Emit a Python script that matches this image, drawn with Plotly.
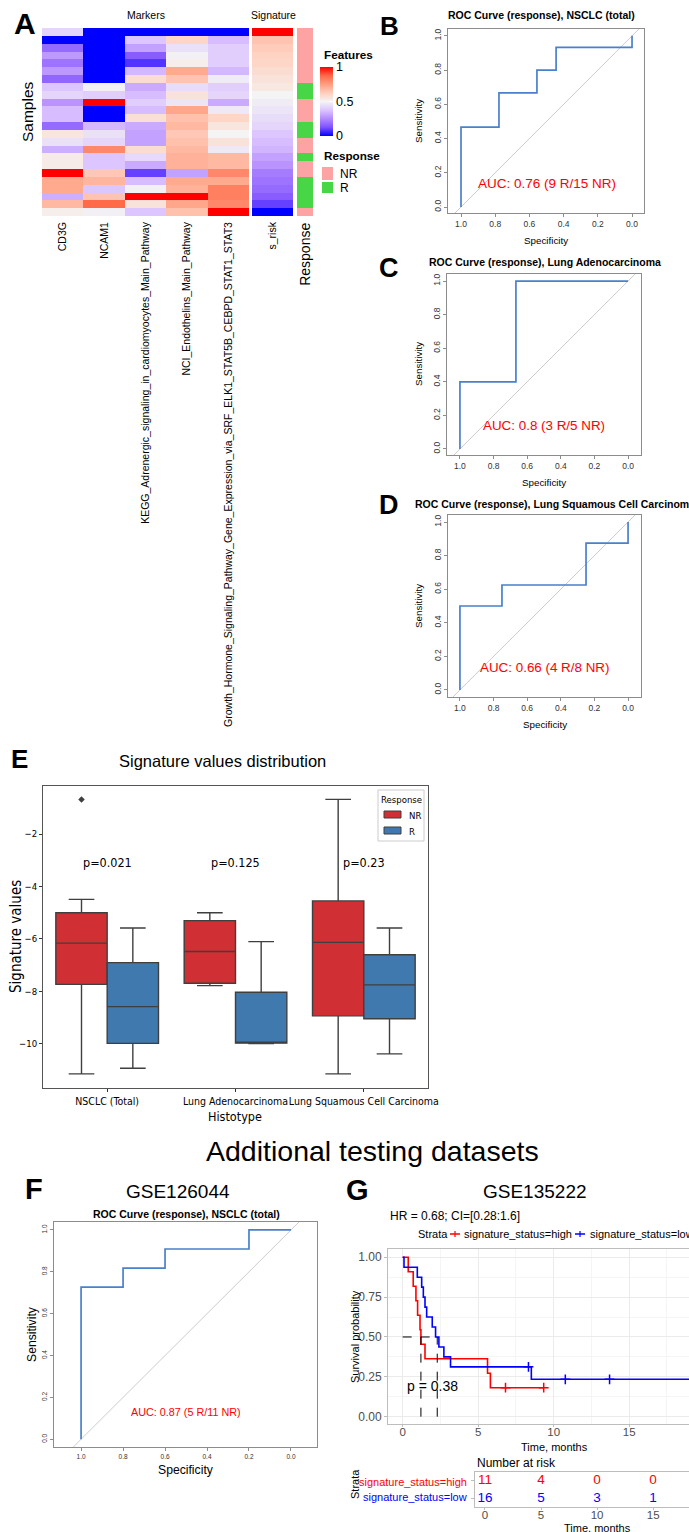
import numpy as np
import plotly.graph_objects as go

W, H = 689, 1532
def X(p): return p / W
def Y(p): return 1 - p / H

ARIAL = "Liberation Sans, Arial, Helvetica, sans-serif"
DV = "DejaVu Sans Condensed, DejaVu Sans, sans-serif"

# ---------------- Panel A data ----------------
feature_names = ["CD3G", "NCAM1",
                 "KEGG_Adrenergic_signaling_in_cardiomyocytes_Main_Pathway",
                 "NCI_Endothelins_Main_Pathway",
                 "Growth_Hormone_Signaling_Pathway_Gene_Expression_via_SRF_ELK1_STAT5B_CEBPD_STAT1_STAT3"]
cd3g = [0.42, 0.0, 0.18, 0.28, 0.2, 0.28, 0.17, 0.38, 0.42, 0.27, 0.36, 0.36, 0.18, 0.55, 0.45, 0.33, 0.53, 0.53, 1.0, 0.72, 0.72, 0.33, 0.68, 0.52]
ncam1 = [0.0, 0.0, 0.0, 0.0, 0.0, 0.0, 0.0, 0.49, 0.4, 1.0, 0.0, 0.0, 0.35, 0.45, 0.42, 0.8, 0.38, 0.38, 0.64, 0.69, 0.38, 0.65, 0.87, 0.49]
kegg = [0.0, 0.38, 0.3, 0.15, 0.08, 0.35, 0.58, 0.32, 0.36, 0.4, 0.36, 0.57, 0.32, 0.3, 0.3, 0.58, 0.43, 0.32, 0.1, 0.36, 0.49, 1.0, 0.56, 0.38]
nci = [0.0, 0.6, 0.45, 0.49, 0.52, 0.72, 0.65, 0.44, 0.56, 0.46, 0.73, 0.66, 0.68, 0.64, 0.66, 0.68, 0.7, 0.7, 0.3, 0.72, 0.7, 1.0, 0.73, 0.66]
growth = [0.0, 0.36, 0.4, 0.4, 0.4, 0.35, 0.48, 0.4, 0.42, 0.32, 0.47, 0.6, 0.55, 0.5, 0.56, 0.47, 0.68, 0.68, 0.8, 0.72, 0.82, 0.82, 0.8, 1.0]
s_risk = [1.0, 0.65, 0.63, 0.61, 0.6, 0.58, 0.56, 0.54, 0.5, 0.48, 0.46, 0.44, 0.42, 0.38, 0.36, 0.34, 0.3, 0.27, 0.22, 0.2, 0.18, 0.15, 0.1, 0.0]
response = ["NR", "NR", "NR", "NR", "NR", "NR", "NR", "R", "R", "NR", "NR", "NR", "R", "R",
            "NR", "NR", "R", "NR", "NR", "R", "R", "R", "R", "NR"]

# ---------------- ROC data ----------------
rocB_spec = [1, 1, 0.778, 0.778, 0.556, 0.556, 0.444, 0.444, 0, 0]
rocB_sens = [0, 0.467, 0.467, 0.667, 0.667, 0.8, 0.8, 0.933, 0.933, 1]
rocC_spec = [1, 1, 0.667, 0.667, 0]
rocC_sens = [0, 0.4, 0.4, 1, 1]
rocD_spec = [1, 1, 0.75, 0.75, 0.25, 0.25, 0, 0]
rocD_sens = [0, 0.5, 0.5, 0.625, 0.625, 0.875, 0.875, 1]
rocF_spec = [1, 1, 0.8, 0.8, 0.6, 0.6, 0.2, 0.2, 0]
rocF_sens = [0, 0.727, 0.727, 0.818, 0.818, 0.909, 0.909, 1, 1]
auc_labels = ["AUC: 0.76 (9 R/15 NR)", "AUC: 0.8 (3 R/5 NR)", "AUC: 0.66 (4 R/8 NR)", "AUC: 0.87 (5 R/11 NR)"]
roc_ticks = [0, 0.2, 0.4, 0.6, 0.8, 1.0]

# ---------------- Panel E data ----------------
histotypes = ["NSCLC (Total)", "Lung Adenocarcinoma", "Lung Squamous Cell Carcinoma"]
nr_q1 = [-7.73, -7.69, -8.93]
nr_med = [-6.16, -6.48, -6.13]
nr_q3 = [-5.0, -5.3, -4.55]
nr_lo = [-11.14, -7.78, -11.14]
nr_hi = [-4.49, -5.0, -0.68]
r_q1 = [-9.98, -9.97, -9.04]
r_med = [-8.58, -9.95, -7.75]
r_q3 = [-6.9, -8.03, -6.6]
r_lo = [-10.93, -9.99, -10.38]
r_hi = [-5.58, -6.1, -5.58]
nr_outlier_cat = [0]
nr_outlier_val = [-0.68]
pvals = ["p=0.021", "p=0.125", "p=0.23"]
pval_y = -3.07
e_yticks = [-10, -8, -6, -4, -2]

# ---------------- Panel G data ----------------
high_time = [0.37, 0.70, 0.88, 0.99, 1.15, 1.21, 1.48, 5.62, 5.81, 6.81, 9.34]
high_event = [1, 1, 1, 1, 1, 1, 1, 1, 1, 0, 0]
low_time = [0.09, 0.97, 1.26, 1.37, 1.48, 1.59, 1.96, 2.18, 2.40, 2.73, 3.17, 8.33, 8.52, 10.77, 13.70, 21.0]
low_event = [1, 1, 1, 1, 1, 1, 1, 1, 1, 1, 1, 0, 1, 0, 0, 0]
risk_times = [0, 5, 10, 15]
km_yticks = [0, 0.25, 0.5, 0.75, 1.0]

RED_NR = "#FDA3A3"
GREEN_R = "#46D646"
BOX_RED = "#D03033"
BOX_BLUE = "#4079AD"
ROC_BLUE = "#4A80CC"

CS = [[0, "#0000FF"], [0.125, "#7E51FF"], [0.25, "#B38AFF"], [0.375, "#DCC4FF"],
      [0.5, "#F4F4F4"], [0.625, "#FFCEBD"], [0.75, "#FF9E81"], [0.875, "#FF6847"], [1, "#FF0000"]]

fig = go.Figure()
ann = []
shapes = []

def T(x, y, s, size, color="black", family=ARIAL, xanchor="center", yanchor="middle",
      angle=0, xref="paper", yref="paper", bold=False):
    if bold:
        s = "<b>" + s + "</b>"
    ann.append(dict(x=X(x) if xref == "paper" else x, y=Y(y) if yref == "paper" else y,
                    xref=xref, yref=yref, text=s, showarrow=False,
                    font=dict(size=size, color=color, family=family),
                    xanchor=xanchor, yanchor=yanchor, textangle=angle))

def R(x0, y0, x1, y1, fill, line="rgba(0,0,0,0)", lw=0):
    shapes.append(dict(type="rect", xref="paper", yref="paper", x0=X(x0), x1=X(x1),
                       y0=Y(y0), y1=Y(y1), fillcolor=fill, line=dict(color=line, width=lw)))

def L(x0, y0, x1, y1, color, width=1.5):
    shapes.append(dict(type="line", xref="paper", yref="paper", x0=X(x0), x1=X(x1),
                       y0=Y(y0), y1=Y(y1), line=dict(color=color, width=width)))

layout = {}

# ================= Panel A: heatmap =================
rows = list(range(len(cd3g)))
zmat = np.array([cd3g, ncam1, kegg, nci, growth]).T
fig.add_trace(go.Heatmap(
    z=zmat, x=feature_names, y=rows, colorscale=CS, zmin=0, zmax=1,
    xaxis="x", yaxis="y", hoverinfo="skip",
    colorbar=dict(x=X(320), xanchor="left", y=Y(101.5), yanchor="middle",
                  len=69, lenmode="pixels", thickness=13, thicknessmode="pixels",
                  tickvals=[0, 0.5, 1], ticktext=["0", "0.5", "1"], ticks="inside",
                  ticklen=4, tickcolor="white", outlinewidth=0, xpad=0, ypad=0,
                  tickfont=dict(size=12.5, family=ARIAL, color="black"))))
fig.add_trace(go.Heatmap(
    z=[[v] for v in s_risk], x=["s_risk"], y=rows, colorscale=CS, zmin=0, zmax=1,
    showscale=False, xaxis="x2", yaxis="y2", hoverinfo="skip"))
fig.add_trace(go.Heatmap(
    z=[[0 if r == "NR" else 1] for r in response], x=["Response"], y=rows,
    colorscale=[[0, RED_NR], [0.5, RED_NR], [0.5, GREEN_R], [1, GREEN_R]], zmin=0, zmax=1,
    showscale=False, xaxis="x3", yaxis="y3", hoverinfo="skip"))

def hm_x(d0, d1, yname, fs):
    return dict(domain=[X(d0), X(d1)], type="category", tickangle=-90, anchor=yname,
                tickfont=dict(size=fs, family=ARIAL, color="black"), ticks="",
                showgrid=False, zeroline=False, showline=False, automargin=False,
                ticklabelstandoff=3)

def hm_y(xname):
    return dict(domain=[Y(216), Y(28)], range=[len(rows) - 0.5, -0.5], anchor=xname,
                showticklabels=False, showgrid=False, zeroline=False, ticks="",
                automargin=False)

layout["xaxis"] = hm_x(42, 249, "y", 10.5)
layout["yaxis"] = hm_y("x")
layout["xaxis2"] = hm_x(252, 293, "y2", 10.5)
layout["yaxis2"] = hm_y("x2")
layout["xaxis3"] = hm_x(297, 313, "y3", 14)
layout["yaxis3"] = hm_y("x3")

T(25, 24, "A", 30, bold=True)
T(146, 15, "Markers", 10.5)
T(273, 15, "Signature", 10.5)
T(27, 112, "Samples", 15.5, angle=-90)
T(322, 54, "Features", 11.7, xanchor="left", bold=True)
T(322, 156, "Response", 11.7, xanchor="left", bold=True)
R(322, 167, 333, 180, RED_NR)
R(322, 182, 333, 193, GREEN_R)
T(338, 173.5, "NR", 12, xanchor="left")
T(338, 188, "R", 12, xanchor="left")

# ================= ROC panels =================
GRAYL = "#8C8C8C"

def roc_panel(idx, spec, sens, dom_x, dom_y, xr, yr, fs, auc, auc_fs, auc_y):
    xn, yn = "x%d" % idx, "y%d" % idx
    fig.add_trace(go.Scatter(x=[1.3, -0.3], y=[-0.3, 1.3], mode="lines",
                             line=dict(color="#CCCCCC", width=1), xaxis=xn, yaxis=yn,
                             hoverinfo="skip"))
    fig.add_trace(go.Scatter(x=spec, y=sens, mode="lines", line=dict(color=ROC_BLUE, width=1.7),
                             xaxis=xn, yaxis=yn))
    common = dict(tickvals=roc_ticks, tickformat=".1f", ticks="outside", ticklen=3,
                  tickcolor=GRAYL, showline=True, mirror=True, linecolor=GRAYL, linewidth=1,
                  showgrid=False, zeroline=False, automargin=False,
                  tickfont=dict(size=fs, family=ARIAL, color="#333333"))
    layout["xaxis%d" % idx] = dict(domain=[X(dom_x[0]), X(dom_x[1])], range=xr, anchor=yn, **common)
    layout["yaxis%d" % idx] = dict(domain=[Y(dom_y[1]), Y(dom_y[0])], range=yr, anchor=xn,
                                   tickangle=-90, **common)
    T(0.5, auc_y, auc, auc_fs, color="#FF0000", xref=xn, yref=yn)

roc_panel(4, rocB_spec, rocB_sens, (448, 644), (29, 213), [1.076, -0.07], [-0.035, 1.04], 8.5, auc_labels[0], 13.5, 0.14)
roc_panel(5, rocC_spec, rocC_sens, (447, 641), (274, 455), [1.077, -0.077], [-0.036, 1.042], 8.5, auc_labels[1], 13.4, 0.137)
roc_panel(6, rocD_spec, rocD_sens, (448, 641), (515, 697), [1.071, -0.077], [-0.042, 1.042], 8.5, auc_labels[2], 13.4, 0.131)
roc_panel(8, rocF_spec, rocF_sens, (54, 317), (1222, 1447), [1.129, -0.124], [-0.037, 1.038], 6.5, auc_labels[3], 10.8, 0.13)

T(389, 26, "B", 26, bold=True)
T(541, 15, "ROC Curve (response), NSCLC (total)", 10.5, bold=True)
T(546, 240, "Specificity", 9.8)
T(419, 121, "Sensitivity", 9.8, angle=-90)

T(389, 268, "C", 27, bold=True)
T(545, 262, "ROC Curve (response), Lung Adenocarcinoma", 10.5, bold=True)
T(544, 482, "Specificity", 9.8)
T(419, 364, "Sensitivity", 9.8, angle=-90)

T(389, 505, "D", 27, bold=True)
T(413, 504, "ROC Curve (response), Lung Squamous Cell Carcinoma", 10.5, bold=True, xanchor="left")
T(545, 724, "Specificity", 9.8)
T(419, 606, "Sensitivity", 9.8, angle=-90)

T(34, 1189, "F", 29, bold=True)
T(178, 1191, "GSE126044", 19)
T(186, 1214, "ROC Curve (response), NSCLC (total)", 10.5, bold=True)
T(186, 1470, "Specificity", 12.2)
T(32, 1334, "Sensitivity", 12.2, angle=-90)

# ================= Panel E: boxplots =================
cat_idx = list(range(len(histotypes)))
box_line = dict(color="#3F3F3F", width=1.4)
fig.add_trace(go.Box(x=cat_idx, q1=nr_q1, median=nr_med, q3=nr_q3, lowerfence=nr_lo,
                     upperfence=nr_hi, name="NR", fillcolor=BOX_RED, line=box_line,
                     whiskerwidth=0.5, boxpoints=False, xaxis="x7", yaxis="y7"))
fig.add_trace(go.Box(x=cat_idx, q1=r_q1, median=r_med, q3=r_q3, lowerfence=r_lo,
                     upperfence=r_hi, name="R", fillcolor=BOX_BLUE, line=box_line,
                     whiskerwidth=0.5, boxpoints=False, xaxis="x7", yaxis="y7"))
group_half = 0.2
fig.add_trace(go.Scatter(x=[c - group_half for c in nr_outlier_cat], y=nr_outlier_val, mode="markers",
                         marker=dict(symbol="diamond", size=5, color="#3F3F3F"),
                         xaxis="x7", yaxis="y7"))
layout["xaxis7"] = dict(domain=[X(43), X(428)], range=[-0.5, 2.5], anchor="y7",
                        tickvals=cat_idx, ticktext=histotypes, tickangle=0,
                        ticks="outside", ticklen=3, tickcolor="#333333",
                        showline=True, mirror=True, linecolor="#555555", linewidth=1,
                        showgrid=False, zeroline=False, automargin=False,
                        tickfont=dict(size=10.5, family=DV, color="black"))
layout["yaxis7"] = dict(domain=[Y(1088), Y(786)], range=[-11.68, -0.17], anchor="x7",
                        tickvals=e_yticks, ticks="outside", ticklen=3, tickcolor="#333333",
                        showline=True, mirror=True, linecolor="#555555", linewidth=1,
                        showgrid=False, zeroline=False, automargin=False,
                        tickfont=dict(size=9.5, family=DV, color="black"))
for i, p in enumerate(pvals):
    T(i, pval_y, p, 12.5, family=DV, xref="x7", yref="y7")
T(19, 759, "E", 26, bold=True)
T(222, 761, "Signature values distribution", 16.5)
T(16, 937, "Signature values", 15, family=DV, angle=-90)
T(235, 1116, "Histotype", 12.5, family=DV)
# legend
R(378, 790, 424, 841, "white", line="#CCCCCC", lw=1)
T(401, 799, "Response", 9.5, family=DV)
R(384, 811, 401, 818, BOX_RED, line="#3F3F3F", lw=1)
R(384, 827, 401, 834, BOX_BLUE, line="#3F3F3F", lw=1)
T(407, 815, "NR", 9.5, family=DV, xanchor="left")
T(407, 831, "R", 9.5, family=DV, xanchor="left")

T(372, 1151, "Additional testing datasets", 28.5)

# ================= Panel G: Kaplan-Meier =================
def km(times, events):
    order = np.argsort(times)
    t = np.array(times)[order]
    e = np.array(events)[order]
    n = len(t)
    s = 1.0
    xs, ys, cx, cy = [0.0], [1.0], [], []
    ev_t, ev_s = [], []
    for i, (ti, ei) in enumerate(zip(t, e)):
        if ei:
            s *= 1 - 1.0 / (n - i)
            ev_t.append(ti)
            ev_s.append(s)
        else:
            cx.append(ti)
            cy.append(s)
        xs.append(ti)
        ys.append(s)
    med = None
    for k, (ti, si) in enumerate(zip(ev_t, ev_s)):
        if si <= 0.5 + 1e-9:
            if abs(si - 0.5) < 1e-9 and k + 1 < len(ev_t):
                med = (ti + ev_t[k + 1]) / 2
            else:
                med = ti
            break
    return xs, ys, cx, cy, med

groups = [("signature_status=high", high_time, high_event, "#FF0000"),
          ("signature_status=low", low_time, low_event, "#0000FF")]
medians = []
for name, tt, ee, col in groups:
    xs, ys, cx, cy, med = km(tt, ee)
    medians.append(med)
    fig.add_trace(go.Scatter(x=xs, y=ys, mode="lines", line=dict(color=col, width=1.6, shape="hv"),
                             xaxis="x9", yaxis="y9", name=name))
    fig.add_trace(go.Scatter(x=cx, y=cy, mode="markers",
                             marker=dict(symbol="cross-thin", size=7, line=dict(color=col, width=1.5)),
                             xaxis="x9", yaxis="y9"))
fig.add_trace(go.Scatter(x=[0, max(medians)], y=[0.5, 0.5], mode="lines",
                         line=dict(color="black", width=1, dash="dash"), xaxis="x9", yaxis="y9"))
for m in medians:
    fig.add_trace(go.Scatter(x=[m, m], y=[0, 0.5], mode="lines",
                             line=dict(color="black", width=1, dash="dash"), xaxis="x9", yaxis="y9"))

KMG = "#BDBDBD"
layout["xaxis9"] = dict(domain=[X(388), 1.0], range=[-0.97, 18.96], anchor="y9",
                        tickvals=risk_times, ticks="outside", ticklen=2, tickcolor=KMG,
                        showline=True, mirror=True, linecolor=KMG, linewidth=1,
                        showgrid=True, gridcolor="#EBEBEB", zeroline=False, automargin=False,
                        ticklabelstandoff=-5,
                        minor=dict(dtick=2.5, tick0=0, showgrid=True, gridcolor="#F5F5F5"),
                        tickfont=dict(size=11.5, family=ARIAL, color="#4D4D4D"))
layout["yaxis9"] = dict(domain=[Y(1424), Y(1249)], range=[-0.046, 1.052], anchor="x9",
                        tickvals=km_yticks, tickformat=".2f", ticks="outside", ticklen=3,
                        tickcolor=KMG, showline=True, mirror=True, linecolor=KMG, linewidth=1,
                        showgrid=True, gridcolor="#EBEBEB", zeroline=False, automargin=False,
                        minor=dict(dtick=0.125, tick0=0, showgrid=True, gridcolor="#F5F5F5"),
                        tickfont=dict(size=12, family=ARIAL, color="#4D4D4D"))

T(357, 1190, "G", 29, bold=True)
T(535, 1191, "GSE135222", 19)
T(388, 1216, "HR = 0.68; CI=[0.28:1.6]", 12, xanchor="left")
T(416, 1234, "Strata", 11, xanchor="left")
L(450, 1234, 460, 1234, "#FF0000", 1.5)
L(455, 1231, 455, 1237, "#FF0000", 1.2)
T(462, 1234, "signature_status=high", 11, xanchor="left")
L(575, 1234, 585, 1234, "#0000FF", 1.5)
L(580, 1231, 580, 1237, "#0000FF", 1.2)
T(588, 1234, "signature_status=low", 11, xanchor="left")
T(2.0, 0.19, "p = 0.38", 14, xref="x9", yref="y9")
T(355, 1337, "Survival probability", 11, angle=-90)
T(554, 1447, "Time, months", 11)

# ---- risk table ----
for row, (name, tt, ee, col) in zip([1, 0], groups):
    counts = [sum(1 for t in tt if t >= rt) for rt in risk_times]
    fig.add_trace(go.Scatter(x=risk_times, y=[row] * len(risk_times), mode="text",
                             text=[str(c) for c in counts],
                             textfont=dict(size=13.5, color=col, family=ARIAL),
                             xaxis="x10", yaxis="y10"))
    T(469, 1482 if row == 1 else 1497, name, 11, color=col, xanchor="right")
layout["xaxis10"] = dict(domain=[X(475), 1.0], range=[-0.89, 18.2], anchor="y10",
                         tickvals=risk_times, ticks="outside", ticklen=2, tickcolor=KMG,
                         showline=True, mirror=True, linecolor=KMG, linewidth=1,
                         showgrid=False, zeroline=False, automargin=False,
                         ticklabelstandoff=-5,
                         tickfont=dict(size=11.5, family=ARIAL, color="#4D4D4D"))
layout["yaxis10"] = dict(domain=[Y(1507), Y(1472)], range=[-0.5, 1.5], anchor="x10",
                         tickvals=[0, 1], showticklabels=False, ticks="outside", ticklen=3,
                         tickcolor=KMG, showline=True, mirror=True, linecolor=KMG, linewidth=1,
                         showgrid=False, zeroline=False, automargin=False)
T(475, 1463, "Number at risk", 12, xanchor="left")
T(355, 1484, "Strata", 11, angle=-90)
T(597, 1528, "Time, months", 11)

fig.update_layout(
    width=W, height=H, margin=dict(l=0, r=0, t=0, b=0), template="none",
    paper_bgcolor="white", plot_bgcolor="white", showlegend=False,
    font=dict(family=ARIAL, color="black"),
    boxmode="group", boxgap=0.2, boxgroupgap=0,
    annotations=ann, shapes=shapes, **layout)

fig.write_html("out.html", config={"displayModeBar": False},
               post_script="document.body.style.margin='0';")
